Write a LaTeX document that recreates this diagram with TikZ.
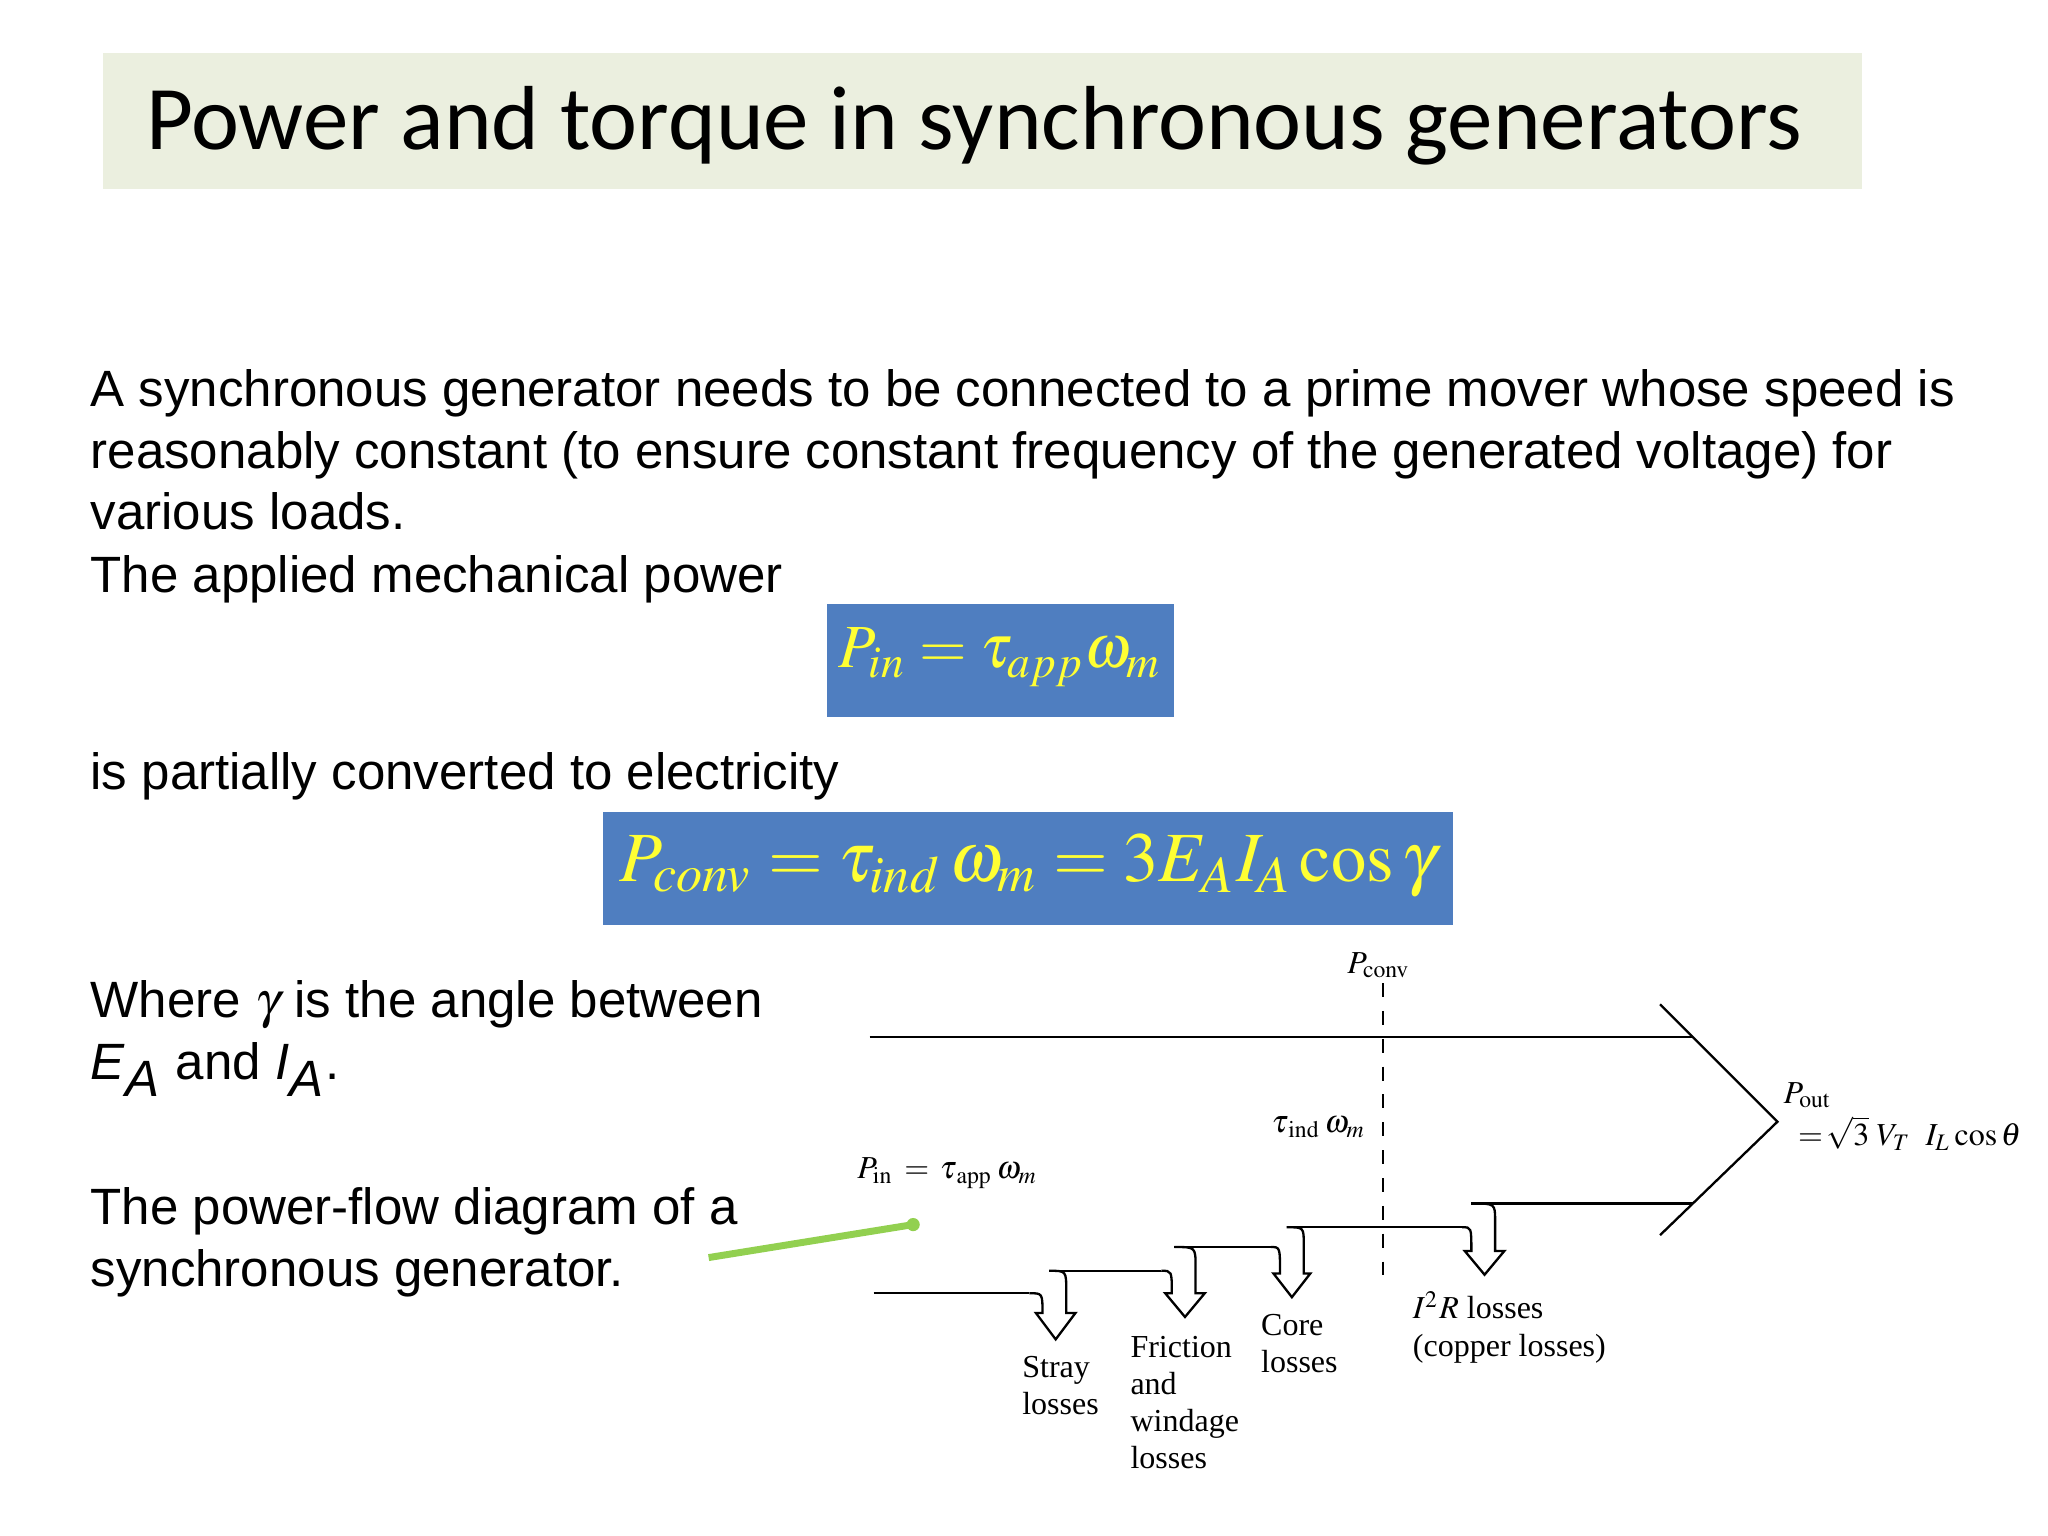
\documentclass[tikz,border=0pt]{standalone}
\usepackage{mathptmx}
\usepackage{fontspec}
\setmainfont{Liberation Sans}
\newfontfamily\titlefont{Carlito}
\newfontfamily\serif{Liberation Serif}
\definecolor{titlebg}{HTML}{EBEFDF}
\definecolor{boxblue}{HTML}{4F7EC0}
\definecolor{fyellow}{HTML}{FFFF33}
\definecolor{pointer}{HTML}{92D050}
\tikzset{
  body/.style={anchor=base west,inner sep=0pt,font=\fontsize{11}{13}\selectfont},
  lab/.style={inner sep=0pt,font=\serif\fontsize{6.9}{8}\selectfont,align=left},
  flow/.style={line width=0.5pt},
}
\begin{document}
\begin{tikzpicture}[x=0.01cm,y=-0.01cm]
\useasboundingbox (0,0) rectangle (1552,1164);
%title
\fill[titlebg] (78,40) rectangle (1411,143);
\node[anchor=west,inner sep=0pt,font=\titlefont\fontsize{19.6}{22}\selectfont] (title) at (110,95) {Power and torque in synchronous generators};
%text
\node[body] (t1) at (68,308) {A synchronous generator needs to be connected to a prime mover whose speed is};
\node[body] (t2) at (68,355) {reasonably constant (to ensure constant frequency of the generated voltage) for};
\node[body] (t3) at (68,401) {various loads.};
\node[body] (t4) at (68,449) {The applied mechanical power};
\node[body] (t5) at (68,598) {is partially converted to electricity};
\node[body] (t6) at (68,771) {Where $\gamma$ is the angle between};
\node[body] (t7) at (68,818) {\textit{E}$_{\textit{A}}$ and \textit{I}$_{\textit{A}}$.};
\node[body] (t8) at (68,928) {The power-flow diagram of a};
\node[body] (t9) at (68,975) {synchronous generator.};
%formulas
\fill[boxblue] (627,458) rectangle (890,543);
\node[text=fyellow,font=\fontsize{13.2}{16}\selectfont] (pin) at (758,498) {$P_{in}=\tau_{app}\omega_{m}$};
\fill[boxblue] (457,615) rectangle (1101,701);
\node[text=fyellow,font=\fontsize{15.2}{18}\selectfont] (pconv) at (779,656) {$P_{conv}=\tau_{ind}\,\omega_{m}=3E_{A}I_{A}\cos\gamma$};
%diagram
\draw[flow] (659,786) -- (1283,786);
\draw[flow] (1258,761) -- (1347,850) -- (1258,936);
\draw[flow] (1115,912) -- (1283,912);
\draw[flow,dashed] (1048,745) -- (1048,975);
\node[lab,anchor=south] (lconv) at (1045,742) {$P_{\mathrm{conv}}$};
\node[lab,anchor=base west] (lind) at (963,858) {$\tau_{\,\mathrm{ind}}\,\omega_m$};
\node[lab,anchor=base west] (lin) at (649,893) {$P_{\mathrm{in}}\,=\,\tau_{\,\mathrm{app}}\,\omega_m$};
\node[lab,anchor=base west] (lout) at (1351,836) {$P_{\mathrm{out}}$};
\node[lab,anchor=base west] (lout2) at (1362,868) {$=\!\sqrt{3}\;V_T\;\;I_L\cos\theta$};
%P in line
\draw[flow] (662,980) -- (780,980);
\draw[flow] (795,963) -- (880,963);
\draw[flow] (890,945) -- (963,945);
\draw[flow] (975,930) -- (1108,930);
%stray
\draw[flow] (780,980) .. controls (790,980) .. (790,995) -- (785,995) -- (800,1015) -- (815,995) -- (808,995) -- (808,978) .. controls (808,963) .. (795,963);
%friction
\draw[flow] (880,963) .. controls (888,963) .. (888,980) -- (883,980) -- (898,998) -- (913,980) -- (906,980) -- (906,960) .. controls (906,945) .. (890,945);
%core
\draw[flow] (963,945) .. controls (970,945) .. (970,965) -- (965,965) -- (979,983) -- (993,965) -- (988,965) -- (988,943) .. controls (988,930) .. (975,930);
%I2R
\draw[flow] (1108,930) .. controls (1115,930) .. (1115,948) -- (1110,948) -- (1125,966) -- (1140,948) -- (1133,948) -- (1133,925) .. controls (1133,912) .. (1115,912);
%labels
\node[lab,anchor=north west] (stray) at (774,1027) {Stray\\losses};
\node[lab,anchor=north west] (fric) at (856,1012) {Friction\\and\\windage\\losses};
\node[lab,anchor=north west] (core) at (955,995) {Core\\losses};
\node[lab,anchor=north west] (cu) at (1070,978) {$I^2R$ losses\\(copper losses)};
%pointer
\coordinate (ptail) at (537,953);
\fill[pointer] (692,928) circle (5);
\coordinate (phead) at (692,928);
\draw[pointer,line width=1.5pt] (ptail) -- (phead);
\end{tikzpicture}
\end{document}
